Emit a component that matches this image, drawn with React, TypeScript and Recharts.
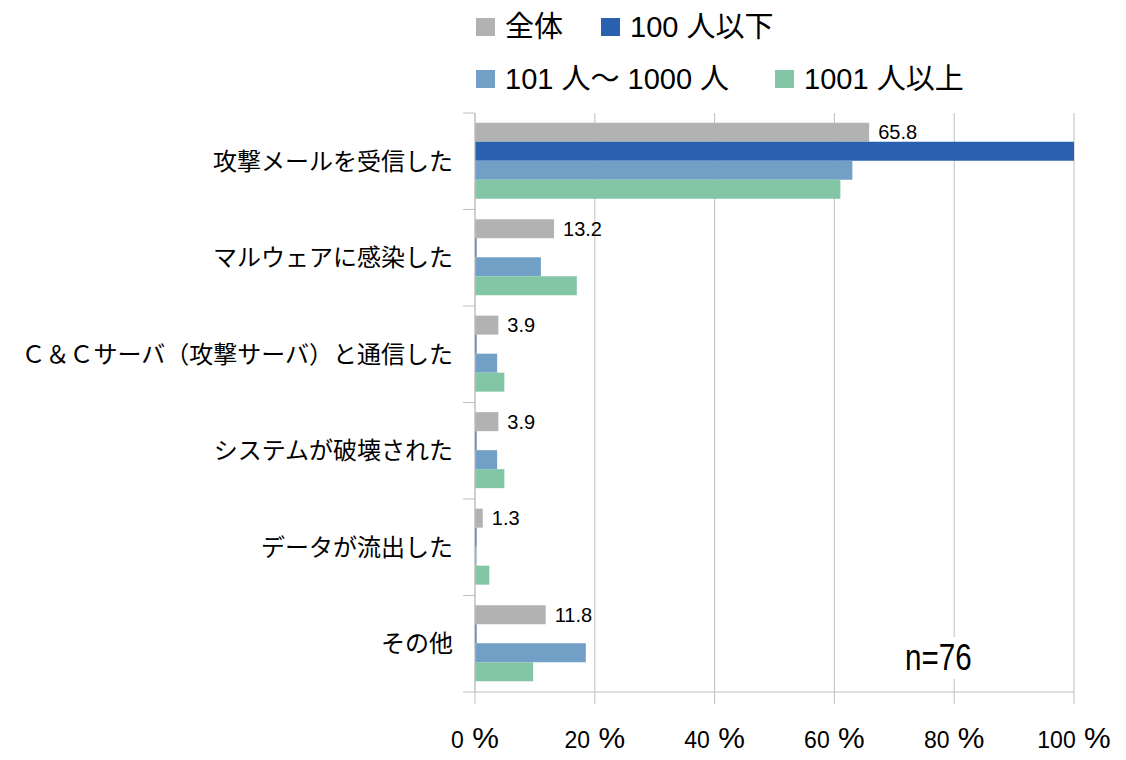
import React from 'react';
import { BarChart, Bar, XAxis, YAxis, CartesianGrid, LabelList } from 'recharts';

const categories = [
  '攻撃メールを受信した',
  'マルウェアに感染した',
  'Ｃ＆Ｃサーバ（攻撃サーバ）と通信した',
  'システムが破壊された',
  'データが流出した',
  'その他',
];
const seriesNames = ['全体', '100 人以下', '101 人〜 1000 人', '1001 人以上'];
const seriesKeys = ['all', 'small', 'mid', 'large'];
const seriesColors = ['#b2b2b2', '#2a60b0', '#729fc6', '#83c6a6'];
const allValues = [65.8, 13.2, 3.9, 3.9, 1.3, 11.8];
const smallValues = [100, 0, 0, 0, 0, 0];
const midValues = [63.0, 11.0, 3.7, 3.7, 0, 18.5];
const largeValues = [61.0, 17.0, 4.9, 4.9, 2.4, 9.7];
const xTicks = [0, 20, 40, 60, 80, 100];
const noteText = 'n=76';

const seriesValues = [allValues, smallValues, midValues, largeValues];
const data = categories.map((name, i) => {
  const row: any = { name };
  seriesKeys.forEach((k, s) => {
    row[k] = seriesValues[s][i];
  });
  return row;
});

const FONT = '"Liberation Sans", Arial, "Noto Sans CJK JP", sans-serif';
const GRID = '#bfbfbf';

const XTick = (props: any) => {
  const { x, y, payload } = props;
  return (
    <text x={x} y={y} dy={42} textAnchor="middle" fill="#000" fontFamily={FONT}>
      <tspan fontSize={23}>{payload.value}</tspan>
      <tspan fontSize={30}> %</tspan>
    </text>
  );
};

const YTick = (props: any) => {
  const { x, y, payload } = props;
  const half = payload && typeof payload.offset === 'number' && payload.offset > 0 ? payload.offset : 48.25;
  const x1 = x + 10;
  const x2 = x1 + 12;
  const isLast = payload.value === categories[categories.length - 1];
  return (
    <g>
      <line x1={x1} x2={x2} y1={y - half} y2={y - half} stroke={GRID} strokeWidth={1} />
      {isLast && <line x1={x1} x2={x2} y1={y + half} y2={y + half} stroke={GRID} strokeWidth={1} />}
      <text x={x} y={y} dy="0.36em" textAnchor="end" fontSize={24} fill="#000" fontFamily={FONT}>
        {payload.value}
      </text>
    </g>
  );
};

const legendRows = [
  { items: [0, 1], top: 12, gap: 38 },
  { items: [2, 3], top: 64, gap: 46 },
];

export default function App() {
  return (
    <div
      style={{
        position: 'absolute',
        left: 0,
        top: 0,
        width: 1126,
        height: 760,
        background: '#fff',
        fontFamily: FONT,
      }}
    >
      <BarChart
        width={1126}
        height={760}
        data={data}
        layout="vertical"
        margin={{ top: 113, right: 52, bottom: 0, left: 0 }}
        barCategoryGap="10%"
        barGap={0}
      >
        <CartesianGrid horizontal={false} vertical stroke={GRID} />
        <XAxis
          type="number"
          domain={[0, 100]}
          ticks={xTicks}
          height={68}
          tickSize={12}
          tickMargin={2}
          stroke={GRID}
          tickLine={{ stroke: GRID }}
          axisLine={{ stroke: GRID }}
          tick={<XTick />}
          interval={0}
        />
        <YAxis
          type="category"
          dataKey="name"
          width={475}
          tickSize={12}
          tickMargin={10}
          tickLine={false}
          axisLine={{ stroke: GRID }}
          tick={<YTick />}
          interval={0}
        />
        {seriesKeys.map((k, s) => (
          <Bar
            key={k}
            dataKey={k}
            name={seriesNames[s]}
            fill={seriesColors[s]}
            isAnimationActive={false}
            minPointSize={1.5}
          >
            {s === 0 && (
              <LabelList
                dataKey={k}
                position="right"
                offset={9}
                fontSize={20}
                fill="#000"
                fontFamily={FONT}
                formatter={(v: any) => Number(v).toFixed(1)}
              />
            )}
          </Bar>
        ))}
      </BarChart>

      {legendRows.map((row, r) => (
        <div
          key={r}
          style={{
            position: 'absolute',
            left: 476,
            top: row.top,
            height: 30,
            display: 'flex',
            alignItems: 'center',
            whiteSpace: 'nowrap',
          }}
        >
          {row.items.map((s, j) => (
            <div
              key={s}
              style={{ display: 'flex', alignItems: 'center', marginLeft: j === 0 ? 0 : row.gap }}
            >
              <div style={{ width: 19, height: 18, background: seriesColors[s] }} />
              <span style={{ marginLeft: 10, fontSize: 29, lineHeight: '30px', color: '#000' }}>
                {seriesNames[s]}
              </span>
            </div>
          ))}
        </div>
      ))}

      <div
        style={{
          position: 'absolute',
          left: 900,
          top: 637,
          width: 76,
          height: 42,
          background: '#fff',
        }}
      >
        <div
          style={{
            position: 'absolute',
            left: 5,
            top: 0,
            fontFamily: '"Liberation Sans", Arial, sans-serif',
            fontSize: 37,
            lineHeight: '42px',
            color: '#000',
            transform: 'scaleX(0.8)',
            transformOrigin: '0 0',
            whiteSpace: 'nowrap',
          }}
        >
          {noteText}
        </div>
      </div>
    </div>
  );
}
